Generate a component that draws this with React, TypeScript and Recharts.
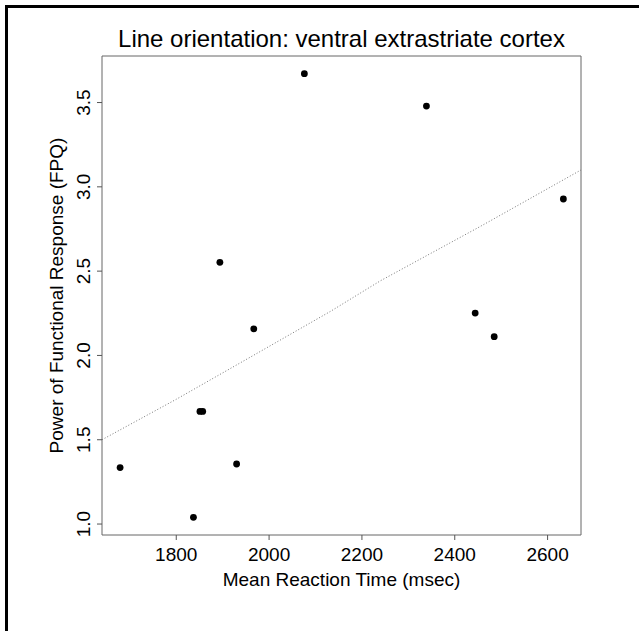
import { ReferenceArea, Scatter, ScatterChart, XAxis, YAxis } from "recharts";

const reactionTime = [1679, 1837, 1851, 1857, 1894, 1930, 1967, 2076, 2339, 2444, 2485, 2634];
const fpq = [1.335, 1.04, 1.668, 1.668, 2.552, 1.356, 2.158, 3.671, 3.479, 2.251, 2.111, 2.928];

const fitTime = [1640, 1800, 1966, 2132, 2240, 2455, 2672];
const fitFpq = [1.5, 1.74, 2.0, 2.261, 2.443, 2.765, 3.1];

const xTicks = [1800, 2000, 2200, 2400, 2600];
const yTicks = [1.0, 1.5, 2.0, 2.5, 3.0, 3.5];
const xDomain: [number, number] = [1640, 2672];
const yDomain: [number, number] = [0.935, 3.776];

const points = reactionTime.map((x, i) => ({ x, y: fpq[i] }));
const fitLine = fitTime.map((x, i) => ({ x, y: fitFpq[i] }));

const font = '"Liberation Sans", Arial, Helvetica, sans-serif';

function YTick({ x, y, payload }: any) {
  return (
    <text x={x} y={y} transform={`rotate(-90, ${x}, ${y})`} textAnchor="middle" fontSize={19} fontFamily={font} fill="#000">
      {Number(payload.value).toFixed(1)}
    </text>
  );
}

function Dot({ cx, cy }: any) {
  return <circle cx={cx} cy={cy} r={3.4} fill="#000" />;
}

export default function App() {
  return (
    <div style={{ position: "absolute", left: 0, top: 0, width: 639, height: 631, background: "#fff", fontFamily: font }}>
      <div style={{ position: "absolute", left: 5, top: 5, right: 0, bottom: 0, borderLeft: "3px solid #000", borderTop: "3px solid #000" }} />
      <div style={{ position: "absolute", left: 102, width: 479, top: 24, textAlign: "center", fontSize: 24, lineHeight: "30px", color: "#000" }}>
        Line orientation: ventral extrastriate cortex
      </div>
      <ScatterChart width={639} height={631} margin={{ top: 56, right: 58, bottom: 36, left: 0 }} style={{ position: "absolute", left: 0, top: 0 }}>
        <XAxis
          type="number"
          dataKey="x"
          domain={xDomain}
          allowDataOverflow
          ticks={xTicks}
          height={60}
          axisLine={false}
          tickSize={5}
          tickMargin={8}
          tickLine={{ stroke: "#555" }}
          tick={{ fontSize: 19, fontFamily: font, fill: "#000" }}
          label={{ value: "Mean Reaction Time (msec)", position: "insideBottom", offset: 9, fontSize: 19, fontFamily: font, fill: "#000" }}
        />
        <YAxis
          type="number"
          dataKey="y"
          domain={yDomain}
          allowDataOverflow
          ticks={yTicks}
          width={102}
          axisLine={false}
          tickSize={5}
          tickMargin={7}
          tickLine={{ stroke: "#555" }}
          tick={<YTick />}
          label={{
            content: ({ viewBox }: any) => {
              const cx = viewBox.x + 63;
              const cy = viewBox.y + viewBox.height / 2;
              return (
                <text x={cx} y={cy} transform={`rotate(-90, ${cx}, ${cy})`} textAnchor="middle" fontSize={19} fontFamily={font} fill="#000">
                  Power of Functional Response (FPQ)
                </text>
              );
            },
          }}
        />
        <ReferenceArea x1={xDomain[0]} x2={xDomain[1]} y1={yDomain[0]} y2={yDomain[1]} fill="none" stroke="#666" strokeWidth={1} ifOverflow="visible" />
        <Scatter
          data={fitLine}
          line={{ stroke: "#777", strokeWidth: 1, strokeDasharray: "1 2" }}
          shape={() => <g />}
          isAnimationActive={false}
        />
        <Scatter data={points} shape={<Dot />} isAnimationActive={false} />
      </ScatterChart>
    </div>
  );
}
